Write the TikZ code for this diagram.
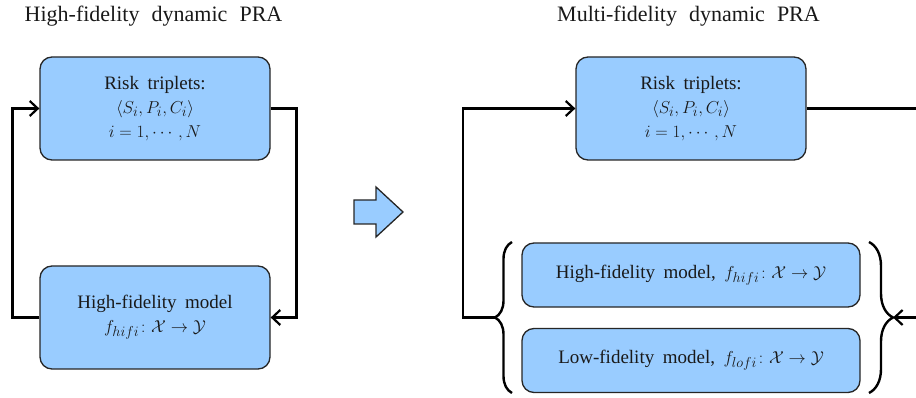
\documentclass[tikz,border=0pt]{standalone}
\usepackage{fontspec}
\setmainfont{Liberation Serif}
\usepackage{amsmath,amssymb}
\usetikzlibrary{positioning, arrows.meta, calc, decorations.pathreplacing}

\definecolor{boxblue}{RGB}{153,204,255}
\newcommand{\boxfont}{\fontsize{19}{24}\selectfont\spaceskip=0.45em plus 0.1em\relax}
\newcommand{\ttlfont}{\fontsize{22}{26}\selectfont\spaceskip=0.55em\relax}

\begin{document}
\begin{tikzpicture}[x=1pt, y=-1pt,
    box/.style={draw=black!85, line width=1.3pt, fill=boxblue, rounded corners=12pt,
        minimum width=230pt, minimum height=103pt, align=center, text=black!90,
        font=\boxfont},
    wide/.style={box, minimum width=338pt, minimum height=64pt},
    loop/.style={line width=2.6pt, -{Straight Barb[length=8pt, width=15pt, line width=2.2pt]}},
    bracket/.style={line width=2.4pt, decorate, decoration={brace, amplitude=#1, aspect=0.5}},
    ttl/.style={font=\ttlfont, text=black!90}]
    \useasboundingbox (0,0) rectangle (916,398);
    \clip (0,0) rectangle (916,398);

    \node[ttl] (titleL) at (153.5,16) {High-fidelity dynamic PRA};
    \node[box] (riskL) at (155,108.5) {Risk triplets:\\ $\langle S_i,P_i,C_i\rangle$\\ $i=1,\cdots,N$};
    \node[box] (hifiL) at (155,317.5) {High-fidelity model\\ $f_{hifi}\colon\mathcal{X}\to\mathcal{Y}$};
    \draw[loop] (hifiL.west) -- ++(-27,0) |- (riskL.west);
    \draw[loop] (riskL.east) -- ++(26,0) |- (hifiL.east);

    \draw[draw=black!85, line width=1.3pt, fill=boxblue] (354,200) -- (376,200) -- (376,187) -- (403,212)
        -- (376,237) -- (376,224) -- (354,224) -- cycle;

    \node[ttl] (titleR) at (688.5,16) {Multi-fidelity dynamic PRA};
    \node[box] (riskR) at (691,108.5) {Risk triplets:\\ $\langle S_i,P_i,C_i\rangle$\\ $i=1,\cdots,N$};
    \node[wide] (hifiR) at (691,275) {High-fidelity model, $f_{hifi}\colon\mathcal{X}\to\mathcal{Y}$};
    \node[wide] (lofiR) at (691,360.5) {Low-fidelity model, $f_{lofi}\colon\mathcal{X}\to\mathcal{Y}$};
    \draw[bracket=17pt] (512,393) -- (512,242);
    \draw[bracket=24pt] (869,242) -- (869,393);
    \coordinate (braceL) at (495,317.5);
    \coordinate (braceR) at (893,317.5);
    \draw[loop] (braceL) -- ++(-32,0) |- (riskR.west);
    \draw[loop] (riskR.east) -- ++(124,0) |- (braceR);
\end{tikzpicture}
\end{document}
